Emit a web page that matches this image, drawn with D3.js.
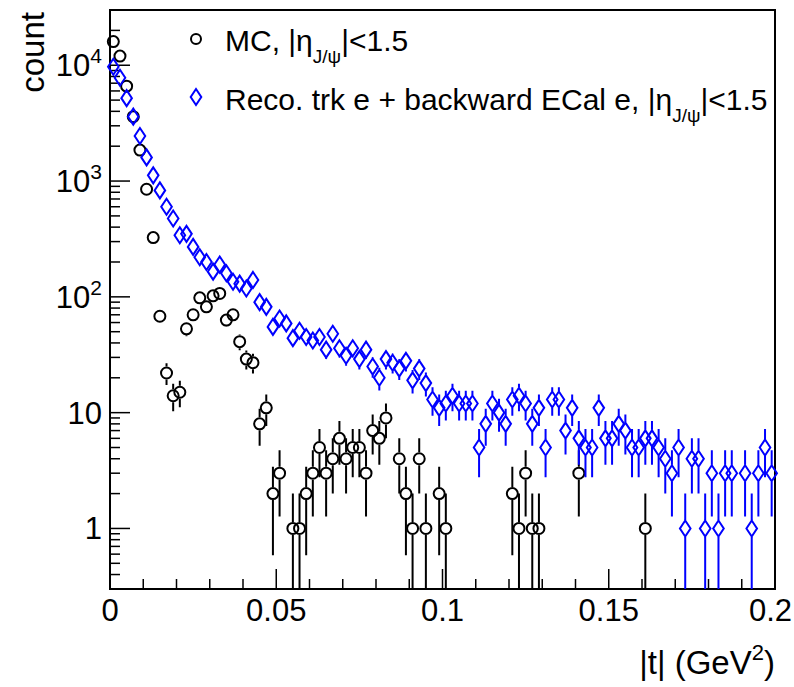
<!DOCTYPE html>
<html>
<head>
<meta charset="utf-8">
<script src="https://cdn.jsdelivr.net/npm/d3@7"></script>
<style>
  body { margin: 0; background: white; }
  text { font-family: "Liberation Sans", Arial, Helvetica, sans-serif; }
</style>
</head>
<body>
<svg id="chart" width="794" height="687"></svg>
<script>
// |t| histogram, 100 bins of 0.002 GeV^2 from 0 to 0.2
const bin_width = 0.002;

// MC, |eta_J/psi|<1.5 (0 = empty bin)
var mc_counts = [16000, 12000, 6600, 3600, 1850, 850, 325, 68, 22, 14,
                 15, 53, 70, 98, 82, 102, 107, 63, 70, 41,
                 29, 27, 8, 11, 2, 3, 0, 1, 1, 2,
                 3, 5, 3, 4, 6, 4, 5, 5, 3, 7,
                 6, 9, 0, 4, 2, 1, 4, 1, 0, 2,
                 1, 0, 0, 0, 0, 0, 0, 0, 0, 0,
                 2, 1, 3, 1, 1, 0, 0, 0, 0, 0,
                 3, 0, 0, 0, 0, 0, 0, 0, 0, 0,
                 1, 0, 0, 0, 0, 0, 0, 0, 0, 0,
                 0, 0, 0, 0, 0, 0, 0, 0, 0, 0];

// Reco. trk e + backward ECal e
var reco_counts = [9700, 7800, 5200, 3600, 2450, 1600, 1120, 830, 600, 475,
                   340, 350, 270, 220, 200, 165, 190, 160, 135, 130,
                   118, 140, 90, 82, 55, 65, 59, 44, 51, 45,
                   42, 45, 35, 48, 36, 31, 36, 29, 35, 25,
                   20, 29, 27, 24, 28, 19, 24, 18, 13, 11,
                   12, 14, 12, 12, 12, 5, 8, 12, 10, 8,
                   13, 14, 12, 8, 11, 5, 13, 13, 7, 11,
                   6, 5, 5, 11, 6, 6, 8, 7, 5, 5,
                   6, 6, 5, 4, 3, 5, 1, 4, 4, 1,
                   3, 1, 3, 3, 0, 3, 1, 3, 5, 3];

var x_ticks = [0, 0.05, 0.1, 0.15, 0.2];
var x_tick_labels = ["0", "0.05", "0.1", "0.15", "0.2"];
var y_ticks = [1, 10, 100, 1000, 10000];
var y_tick_labels = [["1", ""], ["10", ""], ["10", "2"], ["10", "3"], ["10", "4"]];

const pad_left = 110, pad_right = 775, pad_top = 10, pad_bottom = 589;
const blue = "#0000ff";

var svg = d3.select("#chart");
svg.append("rect").attr("width", 794).attr("height", 687).attr("fill", "white");

var x = d3.scaleLinear().domain([0, 0.2]).range([pad_left, pad_right]);
var y = d3.scaleLog().domain([0.3, 30000]).range([pad_bottom, pad_top]);

function to_points(counts) {
    var pts = [];
    counts.forEach(function (c, i) {
        if (c > 0) pts.push({ t: (i + 0.5) * bin_width, n: c, err: Math.sqrt(c) });
    });
    return pts;
}

var mc_points = to_points(mc_counts);
var reco_points = to_points(reco_counts);

// frame
svg.append("rect")
    .attr("x", pad_left).attr("y", pad_top)
    .attr("width", pad_right - pad_left).attr("height", pad_bottom - pad_top)
    .attr("fill", "none").attr("stroke", "black").attr("stroke-width", 2);

// x axis ticks (inside), every 0.01, long at 0.05
var x_minor = d3.range(0, 21).map(d => d * 0.01);
svg.append("g").selectAll("line")
    .data(x_minor)
    .enter().append("line")
    .attr("x1", d => x(d)).attr("x2", d => x(d))
    .attr("y1", pad_bottom)
    .attr("y2", (d, i) => i % 5 == 0 ? pad_bottom - 20 : pad_bottom - 10)
    .attr("stroke", "black").attr("stroke-width", 1.5);

// last label pulled in a little so it stays on the page
svg.append("g").selectAll("text")
    .data(x_ticks)
    .enter().append("text")
    .attr("x", (d, i) => i == x_ticks.length - 1 ? 792 : x(d))
    .attr("y", 621)
    .attr("text-anchor", (d, i) => i == x_ticks.length - 1 ? "end" : "middle")
    .attr("font-size", 31)
    .text((d, i) => x_tick_labels[i]);

// y axis ticks, log
var y_minor = [];
for (var e = -1; e <= 4; e++) {
    for (var m = 1; m <= 9; m++) {
        var v = m * Math.pow(10, e);
        if (v >= 0.3 && v <= 30000) y_minor.push(v);
    }
}
svg.append("g").selectAll("line")
    .data(y_minor)
    .enter().append("line")
    .attr("x1", pad_left).attr("y1", d => y(d)).attr("y2", d => y(d))
    .attr("x2", d => y_ticks.includes(d) ? pad_left + 20 : pad_left + 10)
    .attr("stroke", "black").attr("stroke-width", 1.5);

var ylab = svg.append("g").selectAll("text")
    .data(y_ticks)
    .enter().append("text")
    .attr("x", 102).attr("y", d => y(d) + 11)
    .attr("text-anchor", "end")
    .attr("font-size", 31);
ylab.append("tspan").text((d, i) => y_tick_labels[i][0]);
ylab.append("tspan")
    .attr("font-size", 21).attr("dy", -13)
    .text((d, i) => y_tick_labels[i][1]);

// axis titles
var xt = svg.append("text")
    .attr("x", pad_right).attr("y", 674)
    .attr("text-anchor", "end")
    .attr("font-size", 33);
xt.append("tspan").text("|t|  (GeV");
xt.append("tspan").attr("font-size", 22).attr("dy", -14).text("2");
xt.append("tspan").attr("dy", 14).text(")");

svg.append("text")
    .attr("transform", "translate(44," + (pad_top + 2) + ") rotate(-90)")
    .attr("text-anchor", "end")
    .attr("font-size", 33)
    .text("count");

// error bars stop at marker edge, like ROOT
function draw_errors(g, pts, half, color) {
    g.selectAll("path.err")
        .data(pts)
        .enter().append("path")
        .attr("class", "err")
        .attr("d", function (d) {
            var cx = x(d.t), cy = y(d.n);
            var yu = y(d.n + d.err);
            var lo = d.n - d.err;
            var yl = lo > 0.3 ? y(lo) : pad_bottom;
            var s = "";
            if (cy - half > yu) s += "M" + cx + "," + yu + "V" + (cy - half);
            if (yl > cy + half) s += "M" + cx + "," + (cy + half) + "V" + yl;
            return s;
        })
        .attr("stroke", color).attr("stroke-width", 2).attr("fill", "none");
}

var plot = svg.append("g");
var g_mc = plot.append("g");
draw_errors(g_mc, mc_points, 6.5, "black");
g_mc.selectAll("circle")
    .data(mc_points)
    .enter().append("circle")
    .attr("cx", d => x(d.t)).attr("cy", d => y(d.n))
    .attr("r", 5.5)
    .attr("fill", "none").attr("stroke", "black").attr("stroke-width", 2);

function diamond(cx, cy) {
    return "M" + cx + "," + (cy - 8) + "L" + (cx + 5.3) + "," + cy +
        "L" + cx + "," + (cy + 8) + "L" + (cx - 5.3) + "," + cy + "Z";
}

var g_reco = plot.append("g");
draw_errors(g_reco, reco_points, 8.5, blue);
g_reco.selectAll("path.mk")
    .data(reco_points)
    .enter().append("path")
    .attr("class", "mk")
    .attr("d", d => diamond(x(d.t), y(d.n)))
    .attr("fill", "none").attr("stroke", blue).attr("stroke-width", 2);

// legend
var legend = svg.append("g");
legend.append("circle")
    .attr("cx", 196).attr("cy", 39).attr("r", 5)
    .attr("fill", "none").attr("stroke", "black").attr("stroke-width", 2);
legend.append("path")
    .attr("d", diamond(196, 97))
    .attr("fill", "none").attr("stroke", blue).attr("stroke-width", 2);

function legend_text(ypos, prefix) {
    var t = legend.append("text")
        .attr("x", 225).attr("y", ypos)
        .attr("font-size", 30);
    t.append("tspan").text(prefix + "|\u03b7");
    t.append("tspan").attr("font-size", 19).attr("dy", 12).text("J/\u03c8");
    t.append("tspan").attr("dy", -12).text("|<1.5");
}
legend_text(51, "MC, ");
legend_text(110, "Reco. trk e + backward ECal e, ");
</script>
</body>
</html>
